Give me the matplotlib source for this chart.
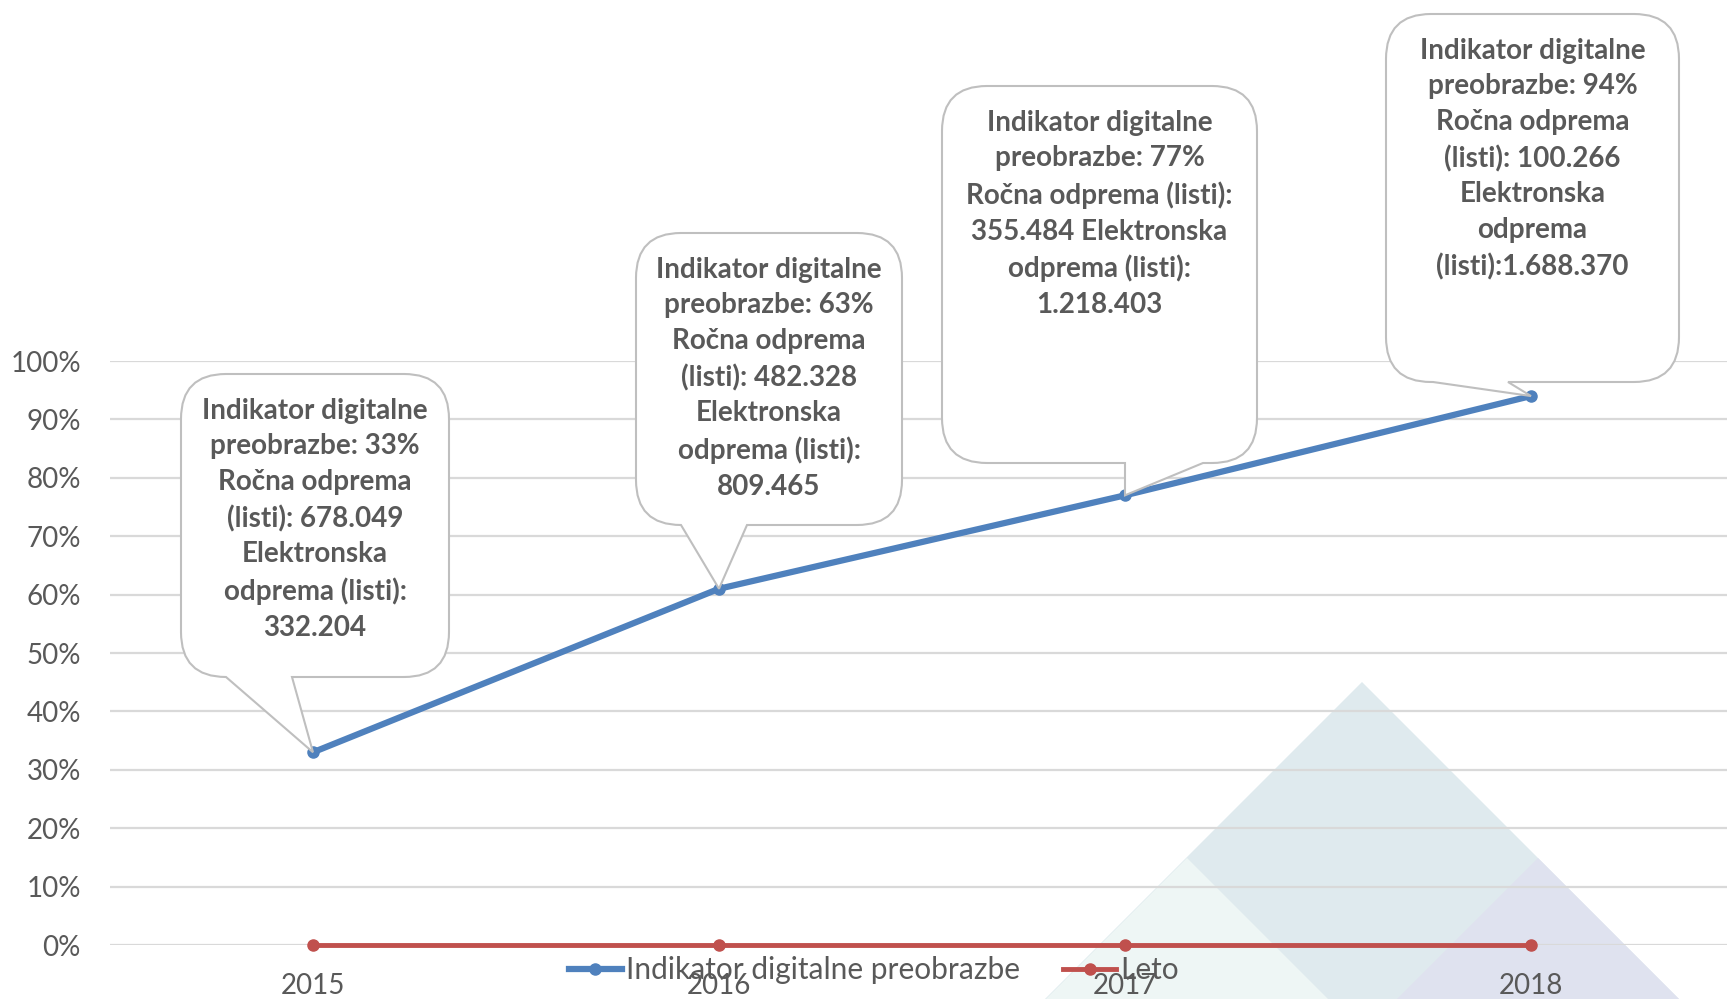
import matplotlib
matplotlib.use("Agg")
import matplotlib.pyplot as plt
from matplotlib.lines import Line2D
from matplotlib.patches import PathPatch, Polygon
from matplotlib.path import Path
from matplotlib.transforms import IdentityTransform

W, H = 1727, 999

years = ["2015", "2016", "2017", "2018"]
indikator = [0.33, 0.61, 0.77, 0.94]
leto = [0, 0, 0, 0]
label_pct = ["33%", "63%", "77%", "94%"]
rocna = ["678.049", "482.328", "355.484", "100.266"]
elektronska = ["332.204", "809.465", "1.218.403", "1.688.370"]
yticks = [i / 10 for i in range(11)]

BLUE = "#4F81BD"
RED = "#C0504D"
GREY = "#595959"

# callout labels, wrapped as in the original
labels = [
    f"Indikator digitalne\npreobrazbe: {label_pct[0]}\nRočna odprema\n(listi): {rocna[0]}\nElektronska\nodprema (listi):\n{elektronska[0]}",
    f"Indikator digitalne\npreobrazbe: {label_pct[1]}\nRočna odprema\n(listi): {rocna[1]}\nElektronska\nodprema (listi):\n{elektronska[1]}",
    f"Indikator digitalne\npreobrazbe: {label_pct[2]}\nRočna odprema (listi):\n{rocna[2]} Elektronska\nodprema (listi):\n{elektronska[2]}",
    f"Indikator digitalne\npreobrazbe: {label_pct[3]}\nRočna odprema\n(listi): {rocna[3]}\nElektronska\nodprema\n(listi):{elektronska[3]}",
]

# box layout in pixels from top-left: x0, y0, x1, y1, tail left, tail right
BOXES = [
    (181, 374, 449, 677, 226, 292),
    (636, 233, 902, 525, 680, 747),
    (942, 86, 1257, 463, 1125, 1203),
    (1386, 14, 1679, 382, 1433, 1508),
]


def callout_path(x0, y0, x1, y1, tl, tr, tip, r=45):
    """Rounded box with a pointer tail, pixel coords (y down) -> display coords."""
    pts = [
        (x0 + r, y0), (x1 - r, y0),
        (x1, y0), (x1, y0 + r),
        (x1, y1 - r),
        (x1, y1), (x1 - r, y1),
        (min(tr, x1 - r), y1), None, (max(tl, x0 + r), y1),
        (x0 + r, y1),
        (x0, y1), (x0, y1 - r),
        (x0, y0 + r),
        (x0, y0), (x0 + r, y0),
        (x0 + r, y0),
    ]
    codes = [Path.MOVETO, Path.LINETO,
             Path.CURVE3, Path.CURVE3,
             Path.LINETO,
             Path.CURVE3, Path.CURVE3,
             Path.LINETO, Path.LINETO, Path.LINETO,
             Path.LINETO,
             Path.CURVE3, Path.CURVE3,
             Path.LINETO,
             Path.CURVE3, Path.CURVE3,
             Path.CLOSEPOLY]
    verts = [tip if p is None else (p[0], H - p[1]) for p in pts]
    return Path(verts, codes)


fig = plt.figure(figsize=(W / 100, H / 100), dpi=100)
ax = fig.add_axes([110 / W, 54 / H, 1624 / W, 584 / H])
ax.set_facecolor("none")

# decorative triangles in the background
tri_specs = [
    ((1362, 682), 400, "#DFEAEE"),
    ((1187, 858), 200, "#EEF6F5"),
    ((1538, 858), 200, "#DFE2EF"),
]
for (tx, ty), size, col in tri_specs:
    tri = Polygon([(tx, H - ty), (tx - size, H - ty - size), (tx + size, H - ty - size)],
                  closed=True, facecolor=col, edgecolor="none",
                  transform=IdentityTransform(), zorder=-1)
    fig.add_artist(tri)

x = list(range(len(years)))
ax.plot(x, leto, color=RED, lw=3.5, marker="o", ms=8, zorder=3, clip_on=False)
ax.plot(x, indikator, color=BLUE, lw=4.5, marker="o", ms=8, zorder=4, clip_on=False)

ax.set_xlim(-0.5, 3.5)
ax.set_ylim(0, 1)
ax.set_yticks(yticks)
ax.set_yticklabels([f"{int(round(t * 100))}%" for t in yticks])
ax.set_xticks(x)
ax.set_xticklabels(years)
ax.grid(axis="y", color="#D9D9D9", lw=1.6, zorder=0)
ax.set_axisbelow(True)
for s in ax.spines.values():
    s.set_visible(False)
ax.tick_params(axis="y", length=0, pad=21, labelsize=20, labelcolor=GREY)
ax.tick_params(axis="x", length=0, pad=20, labelsize=20, labelcolor=GREY)
for lab in ax.get_xticklabels() + ax.get_yticklabels():
    lab.set_fontfamily("Lato")

# callouts
for i, (x0, y0, x1, y1, tl, tr) in enumerate(BOXES):
    tip = tuple(ax.transData.transform((x[i], indikator[i])))
    patch = PathPatch(callout_path(x0, y0, x1, y1, tl, tr, tip), facecolor="white",
                      edgecolor="#BFBFBF", lw=1.5, transform=IdentityTransform(), zorder=5)
    fig.add_artist(patch)
    fig.text((x0 + x1) / 2 / W, 1 - (y0 + 24) / H, labels[i], ha="center", va="top",
             fontsize=20, fontweight="bold", color=GREY, family="Lato",
             linespacing=1.45, zorder=6)

handles = [
    Line2D([], [], color=BLUE, lw=4.5, marker="o", ms=8),
    Line2D([], [], color=RED, lw=3.5, marker="o", ms=8),
]
ax.legend(handles, ["Indikator digitalne preobrazbe", "Leto"], loc="center",
          bbox_to_anchor=(874 / W, 1 - 970 / H), bbox_transform=fig.transFigure,
          ncol=2, frameon=False, handlelength=1.77, handletextpad=0.15, columnspacing=1.44,
          prop={"family": "Lato", "size": 21.5}, labelcolor=GREY)

fig.savefig("out.png", dpi=100)
